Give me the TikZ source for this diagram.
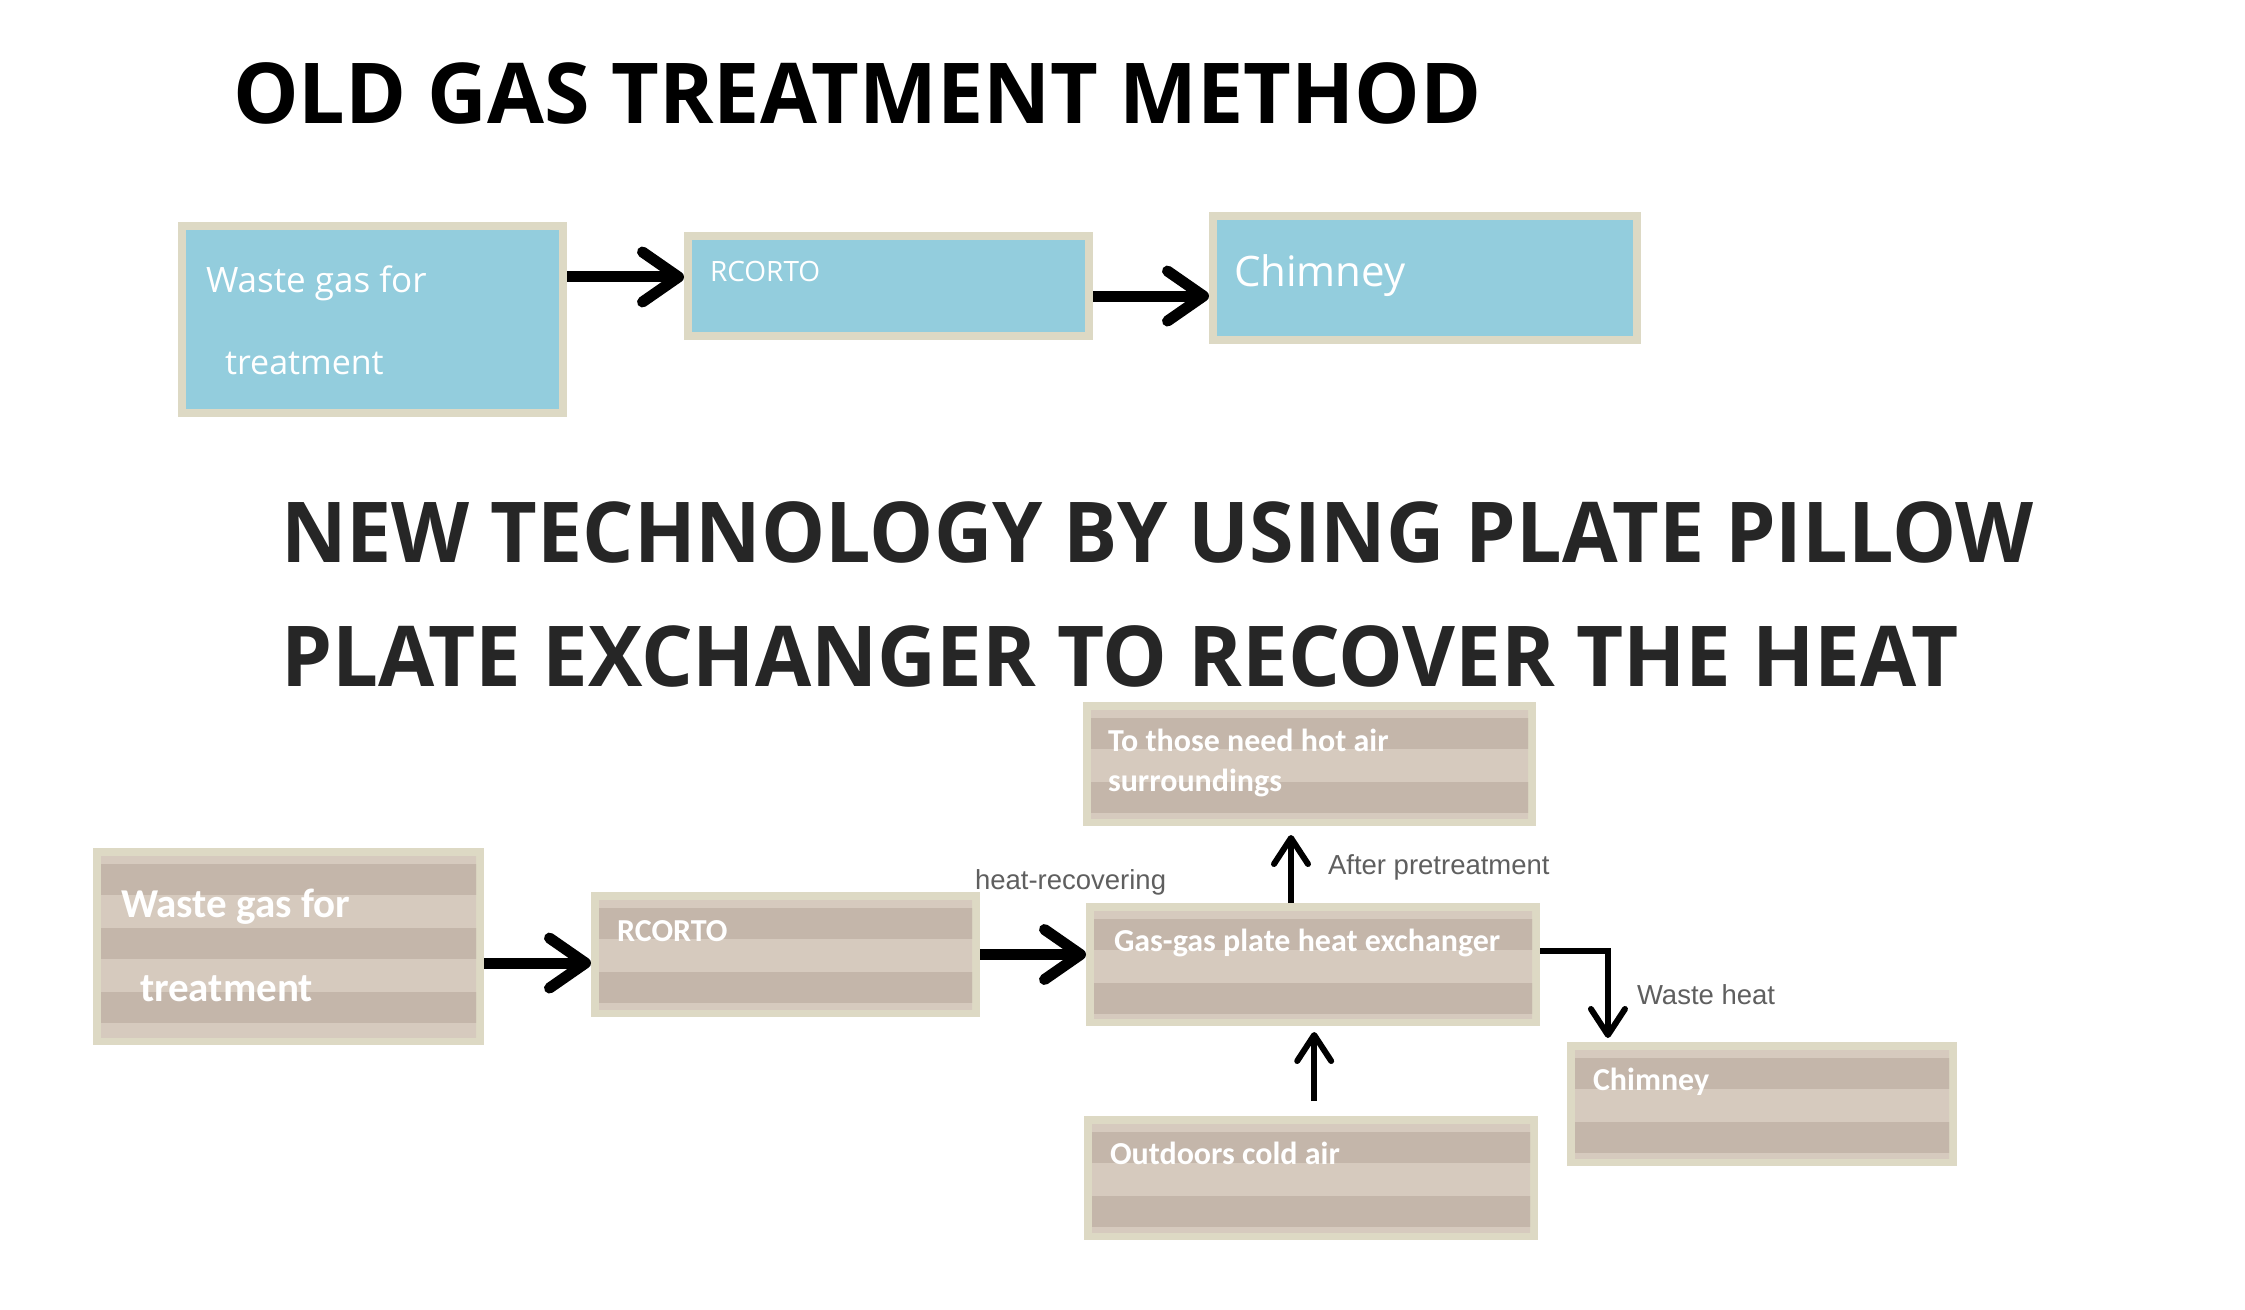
\documentclass[tikz,border=0pt]{standalone}
\usepackage{fontspec}
\usepackage{graphicx}
\setmainfont{Open Sans}
\newfontfamily\boxfont{Carlito}
\newfontfamily\labfont{Liberation Sans}
\newfontfamily\topfont{Open Sans}
\usetikzlibrary{arrows.meta,calc,fit}
\definecolor{bord}{HTML}{DDD9C4}
\definecolor{skyfill}{HTML}{93CDDD}
\definecolor{darkband}{HTML}{C4B6AA}
\definecolor{liteband}{HTML}{D6CABE}
\definecolor{labgray}{HTML}{5F5F5F}
\definecolor{titlegray}{HTML}{262626}
\tikzset{
  txt/.style={anchor=base west, inner sep=0pt, outer sep=0pt},
  boxtxt/.style={txt, text=white, font=\boxfont\bfseries\fontsize{32}{38}\selectfont},
  toptxt/.style={txt, text=white, font=\topfont\fontsize{#1}{#1}\selectfont},
  labtxt/.style={txt, text=labgray, font=\labfont\fontsize{27.5}{33}\selectfont},
  titletxt/.style={txt, font=\bfseries\fontsize{84}{100}\selectfont},
  bigarrow/.style={line width=11pt, -{Straight Barb[length=36pt, width=50pt, round]}},
  thinarrow/.style={line width=6pt, -{Straight Barb[length=26pt, width=34pt, round]}},
}
% striped box: name, x1, y1, x2, y2
\newcommand\stripebox[5]{%
  \node[fit={(#2,#3)(#4,#5)}, inner sep=0pt, outer sep=0pt, fill=bord] (#1) {};
  \begin{scope}
    \clip (#2+8,#3+8) rectangle (#4-8,#5-8);
    \fill[liteband] (#2,#3) rectangle (#4,#5);
    \foreach \k in {0,...,3} {\fill[darkband] (#2,#3+16+64*\k) rectangle (#4,#3+47+64*\k);}
  \end{scope}}
% blue box: name, x1, y1, x2, y2
\newcommand\bluebox[5]{%
  \node[fit={(#2,#3)(#4,#5)}, inner sep=0pt, outer sep=0pt, fill=bord] (#1) {};
  \fill[skyfill] (#2+8,#3+8) rectangle (#4-8,#5-8);}
\begin{document}
\begin{tikzpicture}[x=1pt,y=-1pt]
\useasboundingbox[fill=white] (0,0) rectangle (2245,1309);

% ---------- titles
\node[titletxt] (t1) at (233,123) {\scalebox{0.983}[1]{OLD GAS TREATMENT METHOD}};
\node[titletxt, text=titlegray] (t2) at (281,562) {\scalebox{0.961}[1]{NEW TECHNOLOGY BY USING PLATE PILLOW}};
\node[titletxt, text=titlegray] (t3) at (281,686) {\scalebox{0.970}[1]{PLATE EXCHANGER TO RECOVER THE HEAT}};

% ---------- old method
\bluebox{A1}{178}{222}{567}{417}
\bluebox{A2}{684}{232}{1093}{340}
\bluebox{A3}{1209}{212}{1641}{344}
\node[toptxt=35] (a1a) at (206,292) {Waste gas for};
\node[toptxt=34] (a1b) at (225,374) {treatment};
\node[toptxt=28] (a2t) at (710,281) {RCORTO};
\node[toptxt=42] (a3t) at (1234,286) {Chimney};

\coordinate (a12) at ($(A1.north east)!0.282!(A1.south east)$);
\coordinate (a23) at ($(A2.north east)!0.593!(A2.south east)$);
\draw[bigarrow] (a12) -- (a12 -| A2.west);
\draw[bigarrow] (a23) -- (a23 -| A3.west);

% ---------- new method
\stripebox{B1}{93}{848}{484}{1045}
\stripebox{B2}{591}{892}{980}{1017}
\stripebox{B3}{1086}{903}{1540}{1026}
\stripebox{B4}{1083}{702}{1536}{826}
\stripebox{B5}{1084}{1116}{1538}{1240}
\stripebox{B6}{1567}{1042}{1957}{1166}

\node[boxtxt, font=\boxfont\bfseries\fontsize{41}{48}\selectfont] (b1a) at (121,917) {Waste gas for};
\node[boxtxt, font=\boxfont\bfseries\fontsize{41}{48}\selectfont] (b1b) at (140,1001) {treatment};
\node[boxtxt] (b2t) at (617,941) {RCORTO};
\node[boxtxt] (b3t) at (1114,951) {Gas-gas plate heat exchanger};
\node[boxtxt] (b4a) at (1108,751) {To those need hot air};
\node[boxtxt] (b4b) at (1108,791) {surroundings};
\node[boxtxt] (b5t) at (1110,1164) {Outdoors cold air};
\node[boxtxt] (b6t) at (1593,1090) {Chimney};

\node[labtxt] (l1) at (975,889) {heat-recovering};
\node[labtxt] (l2) at (1328,874) {After pretreatment};
\node[labtxt] (l3) at (1637,1004) {Waste heat};

\coordinate (b12) at ($(B1.north east)!0.584!(B1.south east)$);
\draw[bigarrow] (b12) -- (b12 -| B2.west);
\draw[bigarrow] (B2.east) -- (B2.east -| B3.west);

\coordinate (b34) at ($(B3.north west)!0.4515!(B3.north east)$);
\draw[thinarrow, shorten >=9pt] (b34) -- (b34 |- B4.south);
\coordinate (b53) at ($(B5.north west)!0.507!(B5.north east)$);
\draw[thinarrow, shorten <=15pt, shorten >=6pt] (b53) -- (b53 |- B3.south);
\coordinate (b36) at ($(B3.north east)!0.39!(B3.south east)$);
\coordinate (c6) at ($(B6.north west)!0.105!(B6.north east)$);
\draw[thinarrow, shorten >=4pt] (b36) -| (c6);
\end{tikzpicture}
\end{document}
